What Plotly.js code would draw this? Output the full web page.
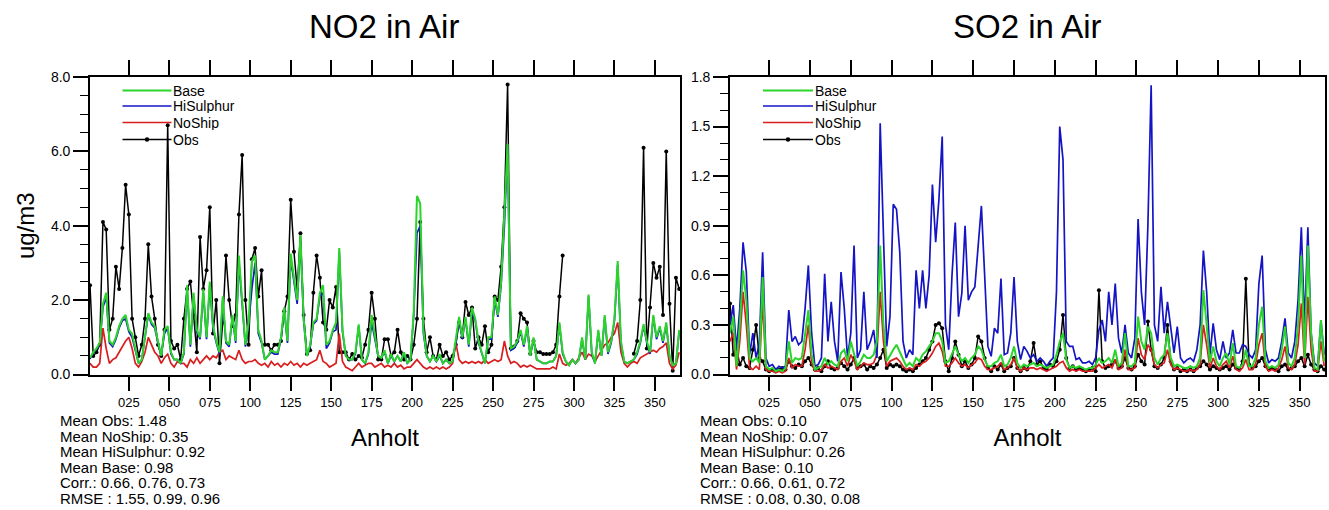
<!DOCTYPE html>
<html>
<head>
<meta charset="utf-8">
<script src="https://cdn.plot.ly/plotly-3.0.1.min.js"></script>
<style>html,body{margin:0;padding:0;background:#fff;}#chart{width:1329px;height:510px;}</style>
</head>
<body>
<div id="chart"></div>
<script>
// Day of year, every second day (1,3,...,365)
const days = Array.from({length: 183}, (_, i) => 1 + 2 * i);
const xTickVals = [25, 50, 75, 100, 125, 150, 175, 200, 225, 250, 275, 300, 325, 350];
const xTickText = ['025', '050', '075', '100', '125', '150', '175', '200', '225', '250', '275', '300', '325', '350'];
const seriesNames = ['Base', 'HiSulphur', 'NoShip', 'Obs'];

// ---------- NO2 (ug/m3) ----------
const no2Obs = [
  2.4, 0.5, 0.6, 0.8, 4.1, 3.9, 1.2, 1.5, 2.9, 2.3,
  3.4, 5.1, 4.3, 1.5, 1.0, 0.5, 0.8, 1.5, 3.5, 2.1,
  1.5, 0.8, 0.5, 1.2, 6.7, 0.9, 0.7, 0.8, 0.4, 1.5,
  2.3, 2.5, 1.6, 0.6, 3.7, 2.3, 2.8, 4.5, 1.1, 2.0,
  0.3, 1.4, 3.2, 2.0, 1.3, 1.6, 4.3, 5.9, 2.0, 0.8,
  3.1, 3.4, 2.1, 2.8, 0.8, 0.8, 0.65, 0.8, 0.8, 0.9,
  1.7, 2.1, 4.7, 3.3, 2.3, 3.8, 1.6, 0.55, 0.65, 2.2,
  3.2, 2.6, 1.4, 1.2, 2.0, 1.8, 2.35, 0.6, 0.6, 0.6,
  0.4, 0.55, 0.4, 0.5, 0.45, 0.8, 1.2, 2.2, 1.5, 0.4,
  0.4, 0.95, 0.95, 0.5, 0.6, 1.2, 0.6, 0.4, 0.5, 0.4,
  0.8, 1.5, 4.1, 1.5, 0.6, 1.0, 0.5, 0.4, 0.8, 0.5,
  0.6, 0.4, 0.5, 0.8, 1.4, 1.0, 1.95, 1.6, 1.8, 0.7,
  1.0, 0.8, 1.3, 0.6, 0.8, 2.1, 2.0, 2.9, 4.5, 7.8,
  0.7, 0.75, 0.9, 1.65, 1.5, 1.4, 0.56, 0.9, 0.6, 0.6,
  0.55, 0.55, 0.55, 0.6, 0.8, 2.1, 3.2, null, null, null,
  null, null, null, null, null, null, null, null, null, null,
  null, null, null, null, null, null, null, null, 0.56, 0.9,
  2.0, 6.1, 0.7, 1.8, 3.0, 2.6, 2.9, 1.6, 6.0, 1.9,
  0.1, 2.6, 2.3
];
const no2Base = [
  0.45, 0.6, 0.7, 0.85, 1.9, 2.2, 0.9, 0.8, 1.0, 1.3,
  1.5, 1.6, 1.2, 1.1, 0.7, 0.3, 0.4, 1.0, 1.65, 1.4,
  1.3, 0.9, 0.5, 1.2, 1.3, 0.6, 0.4, 0.4, 0.3, 0.6,
  2.4, 0.8, 2.2, 1.2, 1.0, 2.3, 1.0, 2.5, 1.3, 0.9,
  0.6, 2.1, 0.9, 0.8, 1.6, 0.9, 3.2, 2.0, 0.8, 1.4,
  3.05, 3.2, 1.2, 0.9, 0.4, 0.5, 0.65, 0.6, 0.6, 1.0,
  1.8, 0.9, 3.25, 2.6, 2.0, 3.75, 1.5, 0.5, 0.8, 1.4,
  1.5, 2.2, 2.4, 0.8, 0.9, 1.2, 1.4, 3.4, 1.2, 0.5,
  0.4, 0.4, 0.6, 1.35, 0.4, 0.3, 0.6, 1.6, 1.0, 0.5,
  0.45, 0.65, 0.3, 0.55, 0.35, 0.5, 0.35, 0.6, 0.3, 0.4,
  1.7, 4.8, 4.6, 1.2, 0.5, 0.35, 0.5, 0.35, 0.55, 0.3,
  0.4, 0.3, 0.35, 0.9, 1.55, 1.0, 1.55, 0.8, 1.8, 1.5,
  0.9, 0.6, 0.3, 1.0, 1.0, 2.1, 1.6, 2.5, 4.2, 6.2,
  0.7, 0.75, 0.9, 1.2, 0.8, 1.3, 0.5, 1.0, 0.4, 0.35,
  0.3, 0.3, 0.35, 0.35, 0.5, 1.4, 0.6, 0.35, 0.25, 0.4,
  0.3, 0.4, 1.0, 0.4, 2.15, 0.6, 0.3, 1.2, 0.5, 1.6,
  0.6, 0.9, 1.5, 3.05, 0.9, 0.35, 0.3, 0.35, 0.4, 0.6,
  0.9, 1.35, 0.9, 0.6, 1.6, 1.0, 1.3, 0.9, 1.4, 0.5,
  0.25, 0.3, 1.2
];
const no2HiSulphur = [
  0.42, 0.58, 0.68, 0.8, 1.8, 2.1, 0.85, 0.75, 0.95, 1.25,
  1.45, 1.5, 1.15, 1.0, 0.65, 0.3, 0.4, 0.95, 1.6, 1.35,
  1.25, 0.85, 0.5, 1.1, 1.25, 0.55, 0.4, 0.4, 0.3, 0.55,
  2.3, 0.75, 2.1, 1.15, 0.95, 2.2, 0.95, 2.4, 1.25, 0.85,
  0.55, 2.0, 0.85, 0.75, 1.55, 0.85, 3.0, 1.9, 0.75, 1.35,
  2.3, 3.0, 1.1, 0.85, 0.4, 0.5, 0.6, 0.55, 0.55, 0.95,
  1.75, 0.85, 3.1, 2.5, 1.9, 3.6, 1.45, 0.5, 0.75, 1.35,
  1.45, 2.1, 2.2, 0.7, 0.85, 1.15, 1.2, 3.3, 1.15, 0.5,
  0.4, 0.4, 0.55, 1.3, 0.4, 0.3, 0.55, 1.4, 0.95, 0.5,
  0.45, 0.6, 0.3, 0.5, 0.35, 0.5, 0.35, 0.55, 0.3, 0.4,
  1.6, 3.8, 4.0, 1.1, 0.5, 0.35, 0.5, 0.35, 0.5, 0.3,
  0.4, 0.3, 0.35, 0.85, 1.5, 0.95, 1.5, 0.75, 1.7, 1.45,
  0.85, 0.6, 0.3, 0.95, 0.95, 2.0, 1.55, 2.4, 4.0, 6.1,
  0.65, 0.7, 0.85, 1.15, 0.75, 1.25, 0.5, 0.95, 0.4, 0.35,
  0.3, 0.3, 0.35, 0.35, 0.5, 1.35, 0.55, 0.35, 0.25, 0.4,
  0.3, 0.4, 0.95, 0.4, 2.1, 0.55, 0.3, 1.15, 0.5, 1.55,
  0.55, 0.85, 1.45, 2.95, 0.85, 0.35, 0.3, 0.35, 0.4, 0.55,
  0.85, 1.3, 0.85, 0.55, 1.55, 0.95, 1.25, 0.85, 1.35, 0.5,
  0.25, 0.3, 1.15
];
const no2NoShip = [
  0.3, 0.2, 0.2, 0.3, 1.25, 0.7, 0.3, 0.4, 0.45, 0.6,
  0.75, 0.9, 1.0, 0.7, 0.3, 0.2, 0.35, 0.6, 1.0, 0.8,
  0.6, 0.5, 0.3, 0.45, 0.55, 0.3, 0.2, 0.35, 0.3, 0.3,
  0.2, 0.4, 0.3, 0.45, 0.3, 0.4, 0.5, 0.4, 0.5, 0.45,
  0.6, 0.65, 0.4, 0.5, 0.45, 0.4, 0.65, 0.4, 0.3, 0.35,
  0.35, 0.4, 0.3, 0.25, 0.3, 0.2, 0.35, 0.25, 0.3, 0.2,
  0.3, 0.25, 0.35, 0.25, 0.3, 0.2, 0.3, 0.25, 0.3, 0.35,
  0.4, 0.65, 0.35, 0.3, 0.2, 0.25, 0.3, 1.1, 0.35, 0.2,
  0.15, 0.1, 0.2, 0.3, 0.2, 0.25, 0.3, 0.3, 0.2, 0.25,
  0.3, 0.2, 0.25, 0.2, 0.3, 0.2, 0.25, 0.15, 0.2, 0.2,
  0.3, 0.4, 0.3, 0.2, 0.15, 0.2, 0.15, 0.2, 0.15, 0.2,
  0.15, 0.2, 0.3, 0.85, 0.4, 0.3, 0.35, 0.3, 0.35, 0.3,
  0.35, 0.3, 0.4, 0.3, 0.35, 0.4, 0.35, 0.4, 0.9, 0.5,
  0.3, 0.35, 0.3, 0.2, 0.25, 0.2, 0.25, 0.2, 0.15, 0.15,
  0.15, 0.15, 0.15, 0.2, 0.15, 0.55, 0.3, 0.25, 0.3, 0.4,
  0.3, 0.45, 0.6, 0.4, 0.55, 0.5, 0.35, 0.5, 0.65, 0.8,
  0.85, 1.0, 1.1, 1.4, 0.6, 0.3, 0.2, 0.3, 0.35, 0.3,
  0.45, 0.5, 0.55, 0.6, 0.65, 0.6, 0.7, 0.75, 0.85, 0.3,
  0.15, 0.25, 0.6
];

// ---------- SO2 (ug/m3) ----------
const so2Obs = [
  0.43, 0.12, 0.16, 0.06, 0.1, 0.05, 0.04, 0.15, 0.3, 0.1,
  0.08, 0.03, 0.02, 0.03, 0.02, 0.03, 0.04, 0.03, 0.08, 0.05,
  0.04, 0.06, 0.05, 0.08, 0.1, 0.06, 0.03, 0.04, 0.02, 0.05,
  0.08, 0.04, 0.03, 0.04, 0.07, 0.05, 0.03, 0.06, 0.1, 0.04,
  0.05, 0.06, 0.03, 0.05, 0.04, 0.06, 0.1, 0.15, 0.04, 0.06,
  0.05, 0.06, 0.05, 0.03, 0.02, 0.03, 0.02, 0.04, 0.06, 0.08,
  0.1, 0.15, 0.2, 0.3, 0.31, 0.28, 0.08, 0.02, 0.1, 0.2,
  0.12, 0.05, 0.08, 0.04, 0.06, 0.1, 0.23, 0.2, 0.1, 0.04,
  0.02, 0.05, 0.03, 0.06, 0.02, 0.04, 0.05, 0.1, 0.04, 0.02,
  0.04, 0.03, 0.08, 0.19, 0.06, 0.08, 0.04, 0.03, 0.06, 0.05,
  0.08, 0.15, 0.36, 0.1, 0.04, 0.05, 0.03, 0.04, 0.03, 0.02,
  0.03, 0.04, 0.02, 0.51, 0.08, 0.04, 0.05, 0.06, 0.08, 0.04,
  0.05, 0.1, 0.04, 0.03, 0.05, 0.12, 0.08, 0.06, 0.32, 0.15,
  0.05, 0.04, 0.06, 0.1, 0.3, 0.08, 0.03, 0.04, 0.02, 0.03,
  0.02, 0.03, 0.02, 0.04, 0.05, 0.08, 0.06, 0.03, 0.05, 0.04,
  0.03, 0.04, 0.05, 0.03, 0.06, 0.04, 0.03, 0.08, 0.58, 0.06,
  0.04, 0.05, 0.08, 0.1, 0.05, 0.03, 0.04, 0.03, 0.02, 0.05,
  0.06, 0.03, 0.04, 0.05, 0.08, 0.1, 0.05, 0.12, 0.06, 0.03,
  0.02, 0.05, 0.03
];
const so2Base = [
  0.25, 0.35, 0.05, 0.3, 0.63, 0.45, 0.1, 0.08, 0.1, 0.07,
  0.59, 0.05, 0.03, 0.04, 0.02, 0.03, 0.02, 0.04, 0.2, 0.07,
  0.1, 0.09, 0.1, 0.25, 0.39, 0.12, 0.03, 0.04, 0.05, 0.1,
  0.06, 0.08, 0.06, 0.05, 0.13, 0.15, 0.08, 0.2, 0.12, 0.05,
  0.08, 0.12, 0.1, 0.1, 0.12, 0.2, 0.78, 0.3, 0.08, 0.12,
  0.15, 0.18, 0.14, 0.09, 0.05, 0.07, 0.05, 0.1, 0.08, 0.12,
  0.14, 0.17, 0.2, 0.25, 0.25, 0.2, 0.07, 0.08, 0.12, 0.17,
  0.12, 0.08, 0.1, 0.07, 0.1, 0.12, 0.17, 0.15, 0.09, 0.05,
  0.05, 0.07, 0.08, 0.12, 0.05, 0.06, 0.1, 0.17, 0.07, 0.04,
  0.06, 0.05, 0.06, 0.07, 0.05, 0.06, 0.05, 0.04, 0.05, 0.06,
  0.12, 0.2, 0.25, 0.09, 0.04, 0.05, 0.04, 0.05, 0.04, 0.03,
  0.04, 0.04, 0.06, 0.1, 0.07, 0.08, 0.1, 0.07, 0.15, 0.05,
  0.07, 0.25, 0.05, 0.05, 0.07, 0.35, 0.2, 0.15, 0.29, 0.25,
  0.1, 0.06, 0.1, 0.12, 0.25, 0.1, 0.05, 0.06, 0.05, 0.04,
  0.04, 0.05, 0.04, 0.05, 0.1, 0.51, 0.3, 0.07, 0.17, 0.08,
  0.05, 0.1, 0.13, 0.06, 0.19, 0.05, 0.04, 0.06, 0.15, 0.05,
  0.05, 0.1, 0.3, 0.41, 0.08, 0.04, 0.05, 0.04, 0.06, 0.15,
  0.29, 0.07, 0.05, 0.1, 0.3, 0.72, 0.1, 0.78, 0.25, 0.04,
  0.03, 0.33, 0.08
];
const so2HiSulphur = [
  0.3, 0.42, 0.15, 0.4, 0.8, 0.62, 0.12, 0.25, 0.1, 0.19,
  0.74, 0.1, 0.05, 0.06, 0.03, 0.05, 0.04, 0.05, 0.39, 0.2,
  0.23, 0.18, 0.2, 0.4, 0.66, 0.25, 0.05, 0.06, 0.1, 0.61,
  0.2, 0.44, 0.2, 0.08, 0.62, 0.4, 0.1, 0.25, 0.78, 0.1,
  0.15, 0.5, 0.15, 0.2, 0.27, 0.1, 1.52, 0.9, 0.17, 0.35,
  1.03, 1.0, 0.74, 0.2, 0.1, 0.15, 0.12, 0.63, 0.4, 0.63,
  0.4, 0.6, 1.15, 0.8, 1.06, 1.44, 0.3, 0.15, 0.6, 0.92,
  0.35, 0.49, 0.9, 0.45, 0.5, 0.53, 0.75, 1.02, 0.6, 0.17,
  0.11, 0.28, 0.25, 0.58, 0.12, 0.13, 0.25, 0.59, 0.2, 0.09,
  0.17, 0.14, 0.1, 0.12, 0.08, 0.1, 0.08, 0.05, 0.08, 0.1,
  0.5, 1.5, 1.3, 0.2, 0.17, 0.17, 0.09, 0.1, 0.07, 0.07,
  0.08, 0.06, 0.1, 0.27, 0.33, 0.2, 0.5, 0.3, 0.55, 0.22,
  0.13, 0.3, 0.13, 0.1, 0.22, 0.94, 0.5, 0.3, 0.9, 1.75,
  0.3, 0.2, 0.53, 0.25, 0.44, 0.3, 0.13, 0.29, 0.1, 0.07,
  0.09, 0.1, 0.08, 0.15, 0.3, 0.75, 0.5, 0.12, 0.31, 0.15,
  0.09, 0.2, 0.1, 0.13, 0.27, 0.13, 0.13, 0.18, 0.17, 0.12,
  0.1, 0.15, 0.55, 0.72, 0.15, 0.07, 0.09, 0.08, 0.1, 0.2,
  0.34, 0.13, 0.1, 0.2, 0.45, 0.89, 0.3, 0.89, 0.25, 0.07,
  0.05, 0.33, 0.12
];
const so2NoShip = [
  0.2, 0.25, 0.03, 0.2, 0.5, 0.3, 0.04, 0.03, 0.05, 0.03,
  0.45, 0.03, 0.02, 0.02, 0.01, 0.02, 0.01, 0.02, 0.1, 0.04,
  0.06, 0.05, 0.05, 0.15, 0.3, 0.07, 0.02, 0.02, 0.03, 0.06,
  0.04, 0.05, 0.04, 0.03, 0.08, 0.1, 0.05, 0.12, 0.08, 0.03,
  0.05, 0.07, 0.06, 0.06, 0.07, 0.12, 0.5, 0.2, 0.05, 0.08,
  0.09, 0.1, 0.08, 0.05, 0.03, 0.04, 0.03, 0.06, 0.05, 0.07,
  0.08, 0.1, 0.13, 0.17, 0.19, 0.14, 0.05, 0.05, 0.07, 0.1,
  0.07, 0.05, 0.06, 0.04, 0.06, 0.07, 0.1, 0.09, 0.05, 0.03,
  0.03, 0.04, 0.05, 0.07, 0.03, 0.04, 0.06, 0.1, 0.04, 0.02,
  0.04, 0.03, 0.04, 0.04, 0.03, 0.04, 0.03, 0.02, 0.03, 0.04,
  0.05, 0.07, 0.08, 0.04, 0.02, 0.03, 0.02, 0.03, 0.02, 0.02,
  0.02, 0.02, 0.04, 0.06, 0.04, 0.05, 0.06, 0.04, 0.09, 0.03,
  0.04, 0.15, 0.03, 0.03, 0.04, 0.22, 0.12, 0.09, 0.18, 0.15,
  0.06, 0.04, 0.06, 0.07, 0.15, 0.06, 0.03, 0.04, 0.03, 0.02,
  0.02, 0.03, 0.02, 0.03, 0.06, 0.3, 0.18, 0.04, 0.1, 0.05,
  0.03, 0.06, 0.08, 0.04, 0.11, 0.03, 0.02, 0.04, 0.09, 0.03,
  0.03, 0.06, 0.18, 0.25, 0.05, 0.02, 0.03, 0.02, 0.04, 0.09,
  0.17, 0.04, 0.03, 0.06, 0.18, 0.43, 0.06, 0.47, 0.15, 0.02,
  0.02, 0.2, 0.05
];

const no2Stats = ['Mean Obs: 1.48', 'Mean NoShip: 0.35', 'Mean HiSulphur: 0.92', 'Mean Base: 0.98', 'Corr.: 0.66, 0.76, 0.73', 'RMSE : 1.55, 0.99, 0.96'];
const so2Stats = ['Mean Obs: 0.10', 'Mean NoShip: 0.07', 'Mean HiSulphur: 0.26', 'Mean Base: 0.10', 'Corr.: 0.66, 0.61, 0.72', 'RMSE : 0.08, 0.30, 0.08'];

// ---------- layout helpers ----------
const W = 1329, H = 510;
const px = v => v / W;
const py = v => 1 - v / H;
const FONT = 'Liberation Sans, Arial, Helvetica, sans-serif';
const COL = {Base: '#2bd42b', HiSulphur: '#1414c4', NoShip: '#d81e1e', Obs: '#000000'};
const WID = {Base: 2, HiSulphur: 1.7, NoShip: 1.7, Obs: 1.5};

function modelTrace(name, y, xa, ya) {
  return {type: 'scatter', mode: 'lines', name: name, x: days, y: y, xaxis: xa, yaxis: ya,
          line: {color: COL[name], width: WID[name]}, showlegend: false};
}
function obsTrace(y, xa, ya) {
  return {type: 'scatter', mode: 'lines+markers', name: 'Obs', x: days, y: y, xaxis: xa, yaxis: ya,
          line: {color: COL.Obs, width: WID.Obs}, marker: {color: COL.Obs, size: 4}, connectgaps: false, showlegend: false};
}

const data = [
  obsTrace(no2Obs, 'x', 'y'),
  modelTrace('NoShip', no2NoShip, 'x', 'y'),
  modelTrace('HiSulphur', no2HiSulphur, 'x', 'y'),
  modelTrace('Base', no2Base, 'x', 'y'),
  obsTrace(so2Obs, 'x2', 'y2'),
  modelTrace('NoShip', so2NoShip, 'x2', 'y2'),
  modelTrace('HiSulphur', so2HiSulphur, 'x2', 'y2'),
  modelTrace('Base', so2Base, 'x2', 'y2')
];

function xAxis(domain, anchor) {
  return {domain: domain, anchor: anchor, range: [1, 365.5], tickmode: 'array', tickvals: xTickVals, ticktext: xTickText,
          ticks: 'outside', ticklen: 15, tickwidth: 1.5, tickcolor: '#000', showline: true, linecolor: '#000', linewidth: 1.6,
          mirror: 'ticks', showgrid: false, zeroline: false, tickfont: {size: 13, color: '#000'}, ticklabelstandoff: 0,
          title: {text: 'Anholt', font: {size: 24, color: '#000'}, standoff: 20}};
}
function yAxis(domain, anchor, range, dtick, minor, title) {
  const a = {domain: domain, anchor: anchor, range: range, tick0: 0, dtick: dtick, tickformat: '.1f',
          ticks: 'outside', ticklen: 15, tickwidth: 1.5, tickcolor: '#000', showline: true, linecolor: '#000', linewidth: 1.6,
          mirror: true, showgrid: false, zeroline: false, tickfont: {size: 14, color: '#000'},
          minor: {dtick: minor, ticks: 'outside', ticklen: 8, tickwidth: 1, tickcolor: '#000', showgrid: false}};
  if (title) a.title = {text: title, font: {size: 24, color: '#000'}, standoff: 10};
  return a;
}

const annotations = [
  {text: 'NO2 in Air', x: px(383.5), y: py(26), xref: 'paper', yref: 'paper', xanchor: 'center', yanchor: 'middle', showarrow: false, font: {size: 33, color: '#000'}},
  {text: 'SO2 in Air', x: px(1027.5), y: py(26), xref: 'paper', yref: 'paper', xanchor: 'center', yanchor: 'middle', showarrow: false, font: {size: 33, color: '#000'}}
];
const statY = [420, 435.6, 451.2, 466.8, 482.4, 498];
function statNote(t, x, y) {
  return {text: t, x: px(x), y: py(y), xref: 'paper', yref: 'paper', xanchor: 'left', yanchor: 'middle', showarrow: false,
          height: 14, borderpad: 0, valign: 'middle', font: {size: 15, color: '#000'}};
}
no2Stats.forEach((t, i) => annotations.push(statNote(t, 59, statY[i])));
so2Stats.forEach((t, i) => annotations.push(statNote(t, 699, statY[i])));

// Legend boxes drawn inside each panel (line sample, Obs dot, label)
const shapes = [];
const legRows = [90.5, 106, 122.5, 139.5];
function addLegend(x0, x1) {
  seriesNames.forEach((name, i) => {
    const yy = py(legRows[i]);
    shapes.push({type: 'line', xref: 'paper', yref: 'paper', x0: px(x0), x1: px(x1), y0: yy, y1: yy,
                 line: {color: COL[name], width: name === 'Base' ? 2 : 1.7}});
    if (name === 'Obs') {
      const cx = (x0 + x1) / 2, r = 2.2;
      shapes.push({type: 'circle', xref: 'paper', yref: 'paper', x0: px(cx - r), x1: px(cx + r), y0: py(legRows[i] + r), y1: py(legRows[i] - r),
                   fillcolor: '#000', line: {color: '#000', width: 0}});
    }
    annotations.push({text: name, x: px(x1 + 0.5), y: yy, xref: 'paper', yref: 'paper', xanchor: 'left', yanchor: 'middle',
                      showarrow: false, height: 14, borderpad: 0, font: {size: 14, color: '#000'}});
  });
}
addLegend(122.5, 171.5);
addLegend(763, 813);

const layout = {
  width: W, height: H, margin: {l: 0, r: 0, t: 0, b: 0}, paper_bgcolor: '#fff', plot_bgcolor: '#fff',
  font: {family: FONT, color: '#000'}, showlegend: false, hovermode: 'closest',
  xaxis: xAxis([px(90), px(680)], 'y'),
  yaxis: yAxis([py(374.5), py(77)], 'x', [0, 8], 2, 0.5, 'ug/m3'),
  xaxis2: xAxis([px(730), px(1325)], 'y2'),
  yaxis2: yAxis([py(374.5), py(77)], 'x2', [0, 1.8], 0.3, 0.1, null),
  annotations: annotations,
  shapes: shapes
};

Plotly.newPlot('chart', data, layout, {displayModeBar: false, responsive: false});
</script>
</body>
</html>
